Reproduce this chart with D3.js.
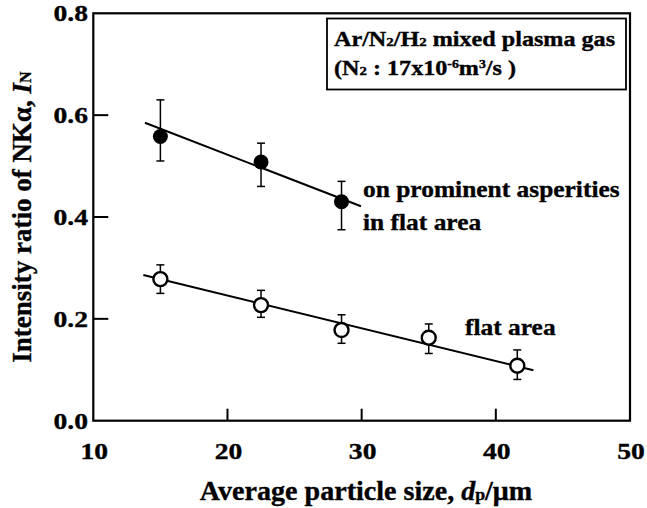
<!DOCTYPE html>
<meta charset="utf-8">
<style>
body { margin: 0; background: #fff; }
svg text { font-family: "Liberation Serif", "Times New Roman", serif; font-weight: bold; fill: #000; stroke: #000; stroke-width: 0.35px; }
</style>
<svg width="647" height="508"></svg>
<script src="https://d3js.org/d3.v7.min.js"></script>
<script>

// particle size (um), intensity ratio, error low, error high
var asperX = [15, 22.5, 28.5],
    asperY = [0.558, 0.508, 0.43],
    asperLo = [0.51, 0.46, 0.375],
    asperHi = [0.63, 0.545, 0.47];

var flatX = [15, 22.5, 28.5, 35, 41.6],
    flatY = [0.278, 0.227, 0.178, 0.163, 0.108],
    flatLo = [0.25, 0.203, 0.152, 0.132, 0.081],
    flatHi = [0.306, 0.256, 0.208, 0.19, 0.139];

// fitted lines, end points
var asperFit = [[13.85, 0.585], [29.95, 0.421]],
    flatFit = [[13.73, 0.286], [42.8, 0.099]];

var xTicks = [10, 20, 30, 40, 50],
    yTicks = [0.0, 0.2, 0.4, 0.6, 0.8];

var svg = d3.select("svg");

var x = d3.scaleLinear().domain([10, 50]).range([93.3, 630]),
    y = d3.scaleLinear().domain([0, 0.8]).range([420.7, 13.3]);

// the printed face is a bit wider than Liberation Serif, so stretch text sideways
function label(px, py, size, sx, anchor) {
  return svg.append("g")
      .attr("transform", "translate(" + px + "," + py + ") scale(" + sx + ",1)")
    .append("text")
      .attr("text-anchor", anchor || "start")
      .style("font-size", size + "px");
}

// frame
svg.append("rect")
    .attr("x", x(10)).attr("y", y(0.8))
    .attr("width", x(50) - x(10)).attr("height", y(0) - y(0.8))
    .attr("fill", "none").attr("stroke", "#000").attr("stroke-width", 2.2);

// inward ticks, none at the frame corners
svg.selectAll(".xt").data(xTicks.slice(1, -1)).enter().append("line")
    .attr("x1", d => x(d)).attr("x2", d => x(d))
    .attr("y1", y(0)).attr("y2", y(0) - 12)
    .attr("stroke", "#000").attr("stroke-width", 2);
svg.selectAll(".yt").data(yTicks.slice(1, -1)).enter().append("line")
    .attr("x1", x(10)).attr("x2", x(10) + 15)
    .attr("y1", d => y(d)).attr("y2", d => y(d))
    .attr("stroke", "#000").attr("stroke-width", 2);

xTicks.forEach(function(d) {
  label(x(d) + 1, 458.5, 23, 1.2, "middle").text(d);
});
yTicks.forEach(function(d) {
  label(88, y(d) + 8, 23, 1.2, "end").text(d.toFixed(1));
});

// axis titles
var xt = label(366, 500, 27, 1.04, "middle");
xt.append("tspan").text("Average particle size, ");
xt.append("tspan").style("font-style", "italic").text("d");
xt.append("tspan").style("font-size", "17px").text("p");
xt.append("tspan").text("/\u03bcm");

var yt = svg.append("text")
    .attr("transform", "translate(31," + ((y(0) + y(0.8)) / 2) + ") rotate(-90)")
    .attr("text-anchor", "middle").style("font-size", "27px");
yt.append("tspan").text("Intensity ratio of NK\u03b1, ");
yt.append("tspan").style("font-style", "italic").text("I");
yt.append("tspan").style("font-size", "16px").text("N");

// fit lines
var line = d3.line().x(d => x(d[0])).y(d => y(d[1]));
[asperFit, flatFit].forEach(function(f) {
  svg.append("path").attr("d", line(f))
      .attr("fill", "none").attr("stroke", "#000").attr("stroke-width", 2);
});

function series(xs, ys, lo, hi, filled) {
  var g = svg.append("g");
  xs.forEach(function(v, i) {
    var cx = x(v);
    g.append("line").attr("x1", cx).attr("x2", cx)
        .attr("y1", y(lo[i])).attr("y2", y(hi[i]))
        .attr("stroke", "#000").attr("stroke-width", 1.5);
    [lo[i], hi[i]].forEach(function(e) {
      g.append("line").attr("x1", cx - 4).attr("x2", cx + 4)
          .attr("y1", y(e)).attr("y2", y(e))
          .attr("stroke", "#000").attr("stroke-width", 1.5);
    });
    g.append("circle").attr("cx", cx).attr("cy", y(ys[i]))
        .attr("r", filled ? 7.5 : 7)
        .attr("fill", filled ? "#000" : "#fff")
        .attr("stroke", "#000").attr("stroke-width", filled ? 0 : 2.4);
  });
}
series(asperX, asperY, asperLo, asperHi, true);
series(flatX, flatY, flatLo, flatHi, false);

// annotations
label(363, 197, 24, 1.06).text("on prominent asperities");
label(363, 230, 24, 1.06).text("in flat area");
label(465, 335, 24, 1.06).text("flat area");

// legend box
svg.append("rect").attr("x", 327).attr("y", 18.5).attr("width", 299).attr("height", 71)
    .attr("fill", "#fff").attr("stroke", "#000").attr("stroke-width", 1.8);
var l1 = label(334, 46, 21, 1.15);
l1.append("tspan").text("Ar/N");
l1.append("tspan").style("font-size", "13px").text("2");
l1.append("tspan").text("/H");
l1.append("tspan").style("font-size", "13px").text("2");
l1.append("tspan").text(" mixed plasma gas");
var l2 = label(334, 75, 21, 1.15);
l2.append("tspan").text("(N");
l2.append("tspan").style("font-size", "13px").text("2");
l2.append("tspan").text(" : 17x10");
l2.append("tspan").attr("dy", -7).style("font-size", "12px").text("-6");
l2.append("tspan").attr("dy", 7).text("m");
l2.append("tspan").attr("dy", -7).style("font-size", "12px").text("3");
l2.append("tspan").attr("dy", 7).text("/s )");

</script>
